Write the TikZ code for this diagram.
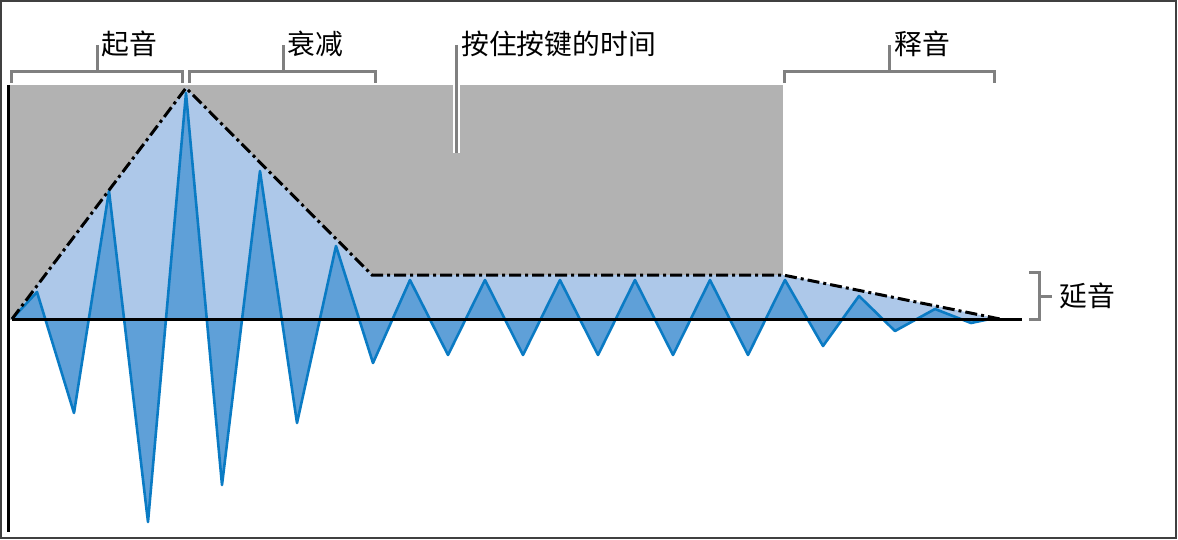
\documentclass[tikz,border=0pt]{standalone}
\usepackage{fontspec}
\setmainfont{Noto Sans CJK SC}
\begin{document}
\begin{tikzpicture}[x=1pt,y=-1pt,
  border/.style={draw=black!75,line width=2.5pt},
  holdbox/.style={fill=black!30,draw=none},
  env/.style={fill=envblue,draw=none},
  envline/.style={draw=black,line width=3pt,dash pattern=on 12pt off 4pt on 3pt off 4pt},
  wavepath/.style={draw=wavestroke,line width=2.6pt,line join=round},
  axis/.style={draw=black,line width=3pt},
  brk/.style={draw=black!50,line width=3pt},
  lbl/.style={font=\fontsize{27.8}{28}\selectfont,anchor=west,inner sep=0pt,text=black}]
\definecolor{envblue}{HTML}{ADC8E9}
\definecolor{wavefill}{HTML}{5FA0D8}
\definecolor{wavestroke}{HTML}{0A7BC4}
\useasboundingbox (0,0) rectangle (1178,540);
\draw[border] (1,1) rectangle (1176,538);
% hold region
\fill[holdbox] (8,85) rectangle (783,320);
% envelope
\fill[env] (12,319) -- (186,88) -- (372,275) -- (783,275) -- (1000,319) -- cycle;
% wave
\fill[wavefill] (12,319) -- (37,292) -- (74,413) -- (109,191) -- (148,522) -- (186,93)
  -- (222,485) -- (260,171) -- (297,423) -- (336,246) -- (373,363)
  -- (410,280) -- (448,355) -- (485,280) -- (523,355) -- (560,280) -- (598,355)
  -- (635,280) -- (673,355) -- (710,280) -- (748,355) -- (785,280)
  -- (823,346) -- (859,296) -- (895,331) -- (935,309) -- (971,323) -- (990,319) -- cycle;
\draw[wavepath] (12,319) -- (37,292) -- (74,413) -- (109,191) -- (148,522) -- (186,93)
  -- (222,485) -- (260,171) -- (297,423) -- (336,246) -- (373,363)
  -- (410,280) -- (448,355) -- (485,280) -- (523,355) -- (560,280) -- (598,355)
  -- (635,280) -- (673,355) -- (710,280) -- (748,355) -- (785,280)
  -- (823,346) -- (859,296) -- (895,331) -- (935,309) -- (971,323) -- (990,319);
% envelope line
\draw[envline] (12,319) -- (186,88) -- (372,275) -- (783,275) -- (1000,319);
% axes
\draw[axis] (12,319) -- (1022,319);
\draw[axis] (8,85) -- (8,532);
% labels
\node[lbl] (attack) at (101,44) {起音};
\node[lbl] (decay) at (287,44) {衰减};
\node[lbl] (hold) at (461,44) {按住按键的时间};
\node[lbl] (release) at (894,44) {释音};
\node[lbl] (sustain) at (1059,296) {延音};
% brackets
\draw[brk] (11,83) -- (11,72) -- (182,72) -- (182,83);
\draw[brk] (97,72) -- (97,45);
\draw[brk] (189,83) -- (189,72) -- (375,72) -- (375,83);
\draw[brk] (283,72) -- (283,45);
\draw[draw=white,line width=7pt] (456,48) -- (456,153);
\draw[brk] (456,45) -- (456,153);
\draw[brk] (784,83) -- (784,72) -- (994,72) -- (994,83);
\draw[brk] (889,72) -- (889,45);
\draw[brk] (1029,272) -- (1039,272) -- (1039,319) -- (1029,319);
\draw[brk] (1039,296) -- (1052,296);
\end{tikzpicture}
\end{document}
